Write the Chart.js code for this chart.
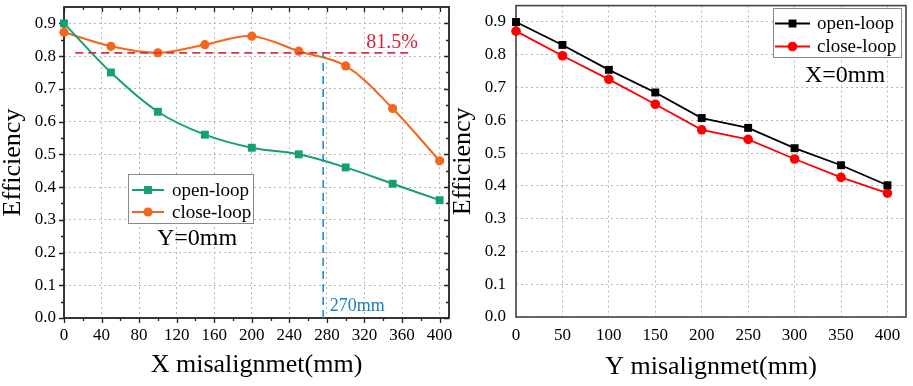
<!DOCTYPE html>
<html>
<head>
<meta charset="utf-8">
<script src="https://cdn.jsdelivr.net/npm/chart.js"></script>
<style>
html, body { margin: 0; padding: 0; background: #fff; }
#wrap { position: relative; width: 913px; height: 386px; overflow: hidden; }
canvas { position: absolute; top: 0; }
#xChart { left: 0; }
#yChart { left: 450px; }
</style>
</head>
<body>
<div id="wrap">
  <canvas id="xChart" width="462" height="386"></canvas>
  <canvas id="yChart" width="463" height="386"></canvas>
</div>
<script>
// left panel: X misalignment
const xMis = [0, 50, 100, 150, 200, 250, 300, 350, 400];
const xOpenLoop = [0.90, 0.75, 0.63, 0.56, 0.52, 0.50, 0.46, 0.41, 0.36];
const xCloseLoop = [0.873, 0.83, 0.81, 0.835, 0.861, 0.815, 0.77, 0.64, 0.48];
const xTickVals = [0, 40, 80, 120, 160, 200, 240, 280, 320, 360, 400];

// right panel: Y misalignment
const yMis = [0, 50, 100, 150, 200, 250, 300, 350, 400];
const yOpenLoop = [0.90, 0.83, 0.754, 0.685, 0.607, 0.577, 0.515, 0.463, 0.402];
const yCloseLoop = [0.872, 0.797, 0.725, 0.649, 0.571, 0.542, 0.482, 0.426, 0.378];
const yTickVals = [0, 50, 100, 150, 200, 250, 300, 350, 400];

const effTicks = [0.0, 0.1, 0.2, 0.3, 0.4, 0.5, 0.6, 0.7, 0.8, 0.9];
const seriesNames = ['open-loop', 'close-loop'];

// guide lines on the left panel
const limitEff = 0.81;
const limitEffText = '81.5%';
const limitX = 276;
const limitXText = '270mm';

const serif = "'Liberation Serif', 'Times New Roman', serif";
Chart.defaults.font.family = serif;
Chart.defaults.color = '#000';

function pts(xs, ys) {
  return xs.map((x, i) => ({ x: x, y: ys[i] }));
}

// box round the plot + small tick marks
const frameTicks = {
  id: 'frameTicks',
  beforeDatasetsDraw(chart, args, o) {
    const a = chart.chartArea, c = chart.ctx;
    c.save();
    c.strokeStyle = o.color;
    c.lineWidth = o.width;
    c.strokeRect(a.left, a.top, a.right - a.left, a.bottom - a.top);
    if (o.xMajor) {
      const xs = chart.scales.x, ys = chart.scales.y;
      c.lineWidth = 1.3;
      c.beginPath();
      const xm = o.xMajor, ym = o.yMajor;
      const xMinor = xm.slice(1).map((v, i) => (v + xm[i]) / 2);
      const yMinor = ym.slice(1).map((v, i) => (v + ym[i]) / 2);
      const vmark = (vals, len) => vals.forEach(v => {
        const p = Math.round(xs.getPixelForValue(v)) + 0.5;
        c.moveTo(p, a.bottom); c.lineTo(p, a.bottom + len);
        c.moveTo(p, a.top); c.lineTo(p, a.top + len);
      });
      const hmark = (vals, len) => vals.forEach(v => {
        const p = Math.round(ys.getPixelForValue(v)) + 0.5;
        c.moveTo(a.left, p); c.lineTo(a.left - len, p);
        c.moveTo(a.right, p); c.lineTo(a.right - len, p);
      });
      vmark(xm, 5); vmark(xMinor, 3);
      hmark(ym, 5); hmark(yMinor, 3);
      c.stroke();
    }
    c.restore();
  }
};

// legend box drawn inside the plot
const boxLegend = {
  id: 'boxLegend',
  afterDatasetsDraw(chart, args, o) {
    const c = chart.ctx;
    c.save();
    c.fillStyle = '#fff';
    c.fillRect(o.box[0], o.box[1], o.box[2], o.box[3]);
    c.strokeStyle = '#8a8a8a';
    c.lineWidth = 1;
    c.strokeRect(o.box[0] + 0.5, o.box[1] + 0.5, o.box[2], o.box[3]);
    chart.data.datasets.forEach((ds, i) => {
      const y = o.rows[i];
      c.strokeStyle = ds.borderColor;
      c.lineWidth = ds.borderWidth;
      c.beginPath();
      c.moveTo(o.lineX[0], y); c.lineTo(o.lineX[1], y);
      c.stroke();
      c.fillStyle = ds.backgroundColor;
      Chart.helpers.drawPoint(c, {
        pointStyle: ds.pointStyle, radius: ds.pointRadius, rotation: 0, borderWidth: 0
      }, (o.lineX[0] + o.lineX[1]) / 2, y);
      c.fillStyle = '#000';
      c.font = o.font;
      c.textAlign = 'left';
      c.textBaseline = 'middle';
      c.fillText(ds.label, o.textX, y + 1);
    });
    c.font = o.noteFont;
    c.textAlign = 'center';
    c.textBaseline = 'middle';
    c.fillText(o.note, o.noteX, o.noteY);
    c.restore();
  }
};

// dashed guide lines + their labels
const guides = {
  id: 'guides',
  afterDatasetsDraw(chart, args, o) {
    if (!o.hLine) return;
    const c = chart.ctx, xs = chart.scales.x, ys = chart.scales.y;
    c.save();
    c.lineWidth = 1.6;
    c.setLineDash([8, 5]);
    c.strokeStyle = o.hLine.color;
    c.beginPath();
    c.moveTo(xs.getPixelForValue(o.hLine.from), ys.getPixelForValue(o.hLine.y));
    c.lineTo(xs.getPixelForValue(o.hLine.to), ys.getPixelForValue(o.hLine.y));
    c.stroke();
    c.strokeStyle = o.vLine.color;
    c.beginPath();
    c.moveTo(xs.getPixelForValue(o.vLine.x), ys.getPixelForValue(o.vLine.from));
    c.lineTo(xs.getPixelForValue(o.vLine.x), ys.getPixelForValue(o.vLine.to));
    c.stroke();
    c.setLineDash([]);
    c.textAlign = 'left';
    c.textBaseline = 'alphabetic';
    o.labels.forEach(l => {
      c.fillStyle = l.color;
      c.font = l.font;
      c.fillText(l.text, xs.getPixelForValue(l.x), ys.getPixelForValue(l.y));
    });
    c.restore();
  }
};

function yAxis(width, pad) {
  return {
    min: 0, max: 0.95,
    afterBuildTicks: s => { s.ticks = effTicks.map(v => ({ value: v })); },
    afterFit: s => { s.width = width; s.paddingTop = 0; s.paddingBottom = 0; },
    ticks: { padding: pad, font: { size: 17 }, callback: v => v.toFixed(1) },
    grid: { color: '#b8b8b8', lineWidth: 1, drawTicks: false },
    border: { display: false, dash: [2, 3] },
    title: { display: true, text: 'Efficiency', font: { size: 26, lineHeight: 1 }, padding: { top: 0, bottom: 0 } }
  };
}

function xAxis(ticks, max, height, pad, titlePad, label) {
  return {
    type: 'linear', min: 0, max: max,
    afterBuildTicks: s => { s.ticks = ticks.map(v => ({ value: v })); },
    afterFit: s => { s.height = height; s.paddingLeft = 0; s.paddingRight = 0; },
    ticks: { padding: pad, font: { size: 17 }, maxRotation: 0 },
    grid: { color: '#b8b8b8', lineWidth: 1, drawTicks: false },
    border: { display: false, dash: [2, 3] },
    title: { display: true, text: label, font: { size: 26, lineHeight: 1 }, padding: { top: 0, bottom: titlePad } }
  };
}

new Chart(document.getElementById('xChart'), {
  type: 'line',
  data: {
    datasets: [{
      label: seriesNames[0],
      data: pts(xMis, xOpenLoop),
      borderColor: '#14a077', backgroundColor: '#14a077',
      borderWidth: 2, pointStyle: 'rect', pointRadius: 5.6, pointBorderWidth: 0,
      tension: 0.35, clip: false
    }, {
      label: seriesNames[1],
      data: pts(xMis, xCloseLoop),
      borderColor: '#f3661c', backgroundColor: '#f3661c',
      borderWidth: 2, pointStyle: 'circle', pointRadius: 4.6, pointBorderWidth: 0,
      tension: 0.35, clip: false
    }]
  },
  options: {
    responsive: false,
    animation: false,
    layout: { padding: { top: 7, right: 13, left: 0, bottom: 0 } },
    scales: {
      x: xAxis(xTickVals, 410, 68, 7, 8, 'X misalignmet(mm)'),
      y: yAxis(64, 8)
    },
    plugins: {
      legend: { display: false },
      tooltip: { enabled: false },
      frameTicks: { color: '#222', width: 1.8, xMajor: xTickVals, yMajor: effTicks },
      boxLegend: {
        box: [128, 174, 125, 49], rows: [190, 212], lineX: [132, 164], textX: 172,
        font: '19px ' + serif, note: 'Y=0mm', noteX: 197, noteY: 239, noteFont: '24px ' + serif
      },
      guides: {
        hLine: { y: limitEff, from: 12, to: 370, color: '#e0303f' },
        vLine: { x: limitX, from: 0, to: limitEff, color: '#1b8fd2' },
        labels: [
          { text: limitEffText, x: 322, y: 0.826, color: '#d8203a', font: '20px ' + serif },
          { text: limitXText, x: 283, y: 0.02, color: '#1a7fc4', font: '18px ' + serif }
        ]
      }
    }
  },
  plugins: [frameTicks, guides, boxLegend]
});

new Chart(document.getElementById('yChart'), {
  type: 'line',
  data: {
    datasets: [{
      label: seriesNames[0],
      data: pts(yMis, yOpenLoop),
      borderColor: '#000', backgroundColor: '#000',
      borderWidth: 1.8, pointStyle: 'rect', pointRadius: 5.6, pointBorderWidth: 0,
      tension: 0, clip: false
    }, {
      label: seriesNames[1],
      data: pts(yMis, yCloseLoop),
      borderColor: '#ff0000', backgroundColor: '#ff0000',
      borderWidth: 1.8, pointStyle: 'circle', pointRadius: 4.8, pointBorderWidth: 0,
      tension: 0, clip: false
    }]
  },
  options: {
    responsive: false,
    animation: false,
    layout: { padding: { top: 2, right: 7, left: 0, bottom: 0 } },
    scales: {
      x: xAxis(yTickVals, 420, 69, 8, 6, 'Y misalignmet(mm)'),
      y: yAxis(66, 10)
    },
    plugins: {
      legend: { display: false },
      tooltip: { enabled: false },
      frameTicks: { color: '#444', width: 1.6 },
      boxLegend: {
        box: [323, 8, 128, 49], rows: [23.5, 46.5], lineX: [325, 360], textX: 367,
        font: '19px ' + serif, note: 'X=0mm', noteX: 395, noteY: 76, noteFont: '24px ' + serif
      }
    }
  },
  plugins: [frameTicks, boxLegend]
});
</script>
</body>
</html>
